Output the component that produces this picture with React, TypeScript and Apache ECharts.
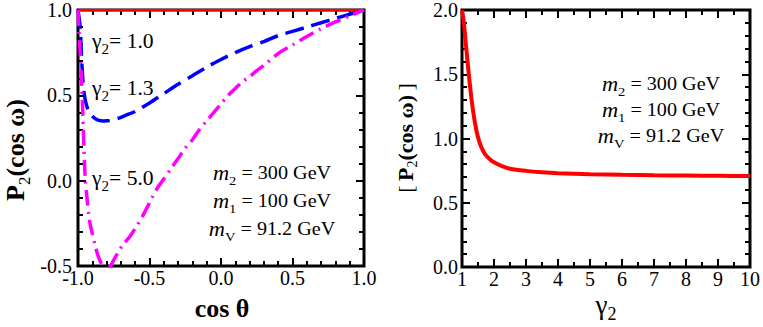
import React, { useEffect, useRef } from 'react';
import * as echarts from 'echarts';

// ---- Left panel: P2(cos ω) vs cos θ ----
const cosThetaG10 = [-1.0, 1.0];
const p2G10 = [1.0, 1.0];

const cosThetaG13 = [-1.0, -0.985, -0.975, -0.965, -0.955, -0.94, -0.92, -0.89, -0.86, -0.82, -0.78, -0.72, -0.66, -0.6, -0.5, -0.4, -0.3, -0.2, -0.1, 0.0, 0.1, 0.2, 0.3, 0.4, 0.5, 0.6, 0.7, 0.8, 0.9, 1.0];
const p2G13 = [1.0, 0.9, 0.72, 0.58, 0.5, 0.44, 0.4, 0.37, 0.355, 0.35, 0.352, 0.365, 0.385, 0.405, 0.455, 0.51, 0.565, 0.615, 0.665, 0.71, 0.75, 0.785, 0.815, 0.85, 0.875, 0.9, 0.925, 0.95, 0.975, 1.0];

const cosThetaG50 = [-1.0, -0.99, -0.98, -0.97, -0.96, -0.95, -0.94, -0.92, -0.9, -0.88, -0.86, -0.84, -0.82, -0.8, -0.78, -0.76, -0.72, -0.68, -0.64, -0.6, -0.55, -0.5, -0.45, -0.4, -0.35, -0.3, -0.25, -0.2, -0.15, -0.1, -0.05, 0.0, 0.05, 0.1, 0.15, 0.2, 0.25, 0.3, 0.4, 0.5, 0.6, 0.7, 0.8, 0.9, 1.0];
const p2G50 = [1.0, 0.82, 0.67, 0.48, 0.23, 0.02, -0.08, -0.23, -0.31, -0.38, -0.44, -0.48, -0.52, -0.53, -0.51, -0.48, -0.42, -0.37, -0.33, -0.28, -0.21, -0.13, -0.05, 0.01, 0.07, 0.13, 0.19, 0.24, 0.3, 0.35, 0.4, 0.45, 0.5, 0.54, 0.58, 0.61, 0.645, 0.675, 0.745, 0.795, 0.845, 0.89, 0.93, 0.965, 1.0];

// ---- Right panel: [P2(cos ω)] vs γ2 ----
const gamma2 = [1.0, 1.05, 1.1, 1.15, 1.2, 1.3, 1.4, 1.5, 1.6, 1.7, 1.8, 1.9, 2.0, 2.25, 2.5, 3.0, 3.5, 4, 5, 6, 7, 8, 9, 10];
const p2Avg = [2.0, 1.92, 1.79, 1.66, 1.53, 1.3, 1.13, 1.01, 0.935, 0.885, 0.855, 0.832, 0.815, 0.785, 0.765, 0.748, 0.737, 0.73, 0.722, 0.717, 0.714, 0.712, 0.71, 0.708];

// ---- Tick labels ----
const leftXTickLabels = ['-1.0', '-0.5', '0.0', '0.5', '1.0'];
const leftYTickLabels = ['-0.5', '0.0', '0.5', '1.0'];
const rightXTickLabels = ['1', '2', '3', '4', '5', '6', '7', '8', '9', '10'];
const rightYTickLabels = ['0.0', '0.5', '1.0', '1.5', '2.0'];

const gammaLabels = ['1.0', '1.3', '5.0'];
const massLabels = [
  { sub: '2', value: '300 GeV' },
  { sub: '1', value: '100 GeV' },
  { sub: 'V', value: '91.2 GeV' },
];

const serif = "'Liberation Serif', 'Times New Roman', serif";

const zip = (xs: number[], ys: number[]) => xs.map((x, i) => [x, ys[i]]);

function makeAxis(
  gridIndex: number,
  position: string,
  min: number,
  max: number,
  interval: number,
  minorSplit: number,
  labels: string[] | null,
  margin: number
) {
  return {
    type: 'value',
    gridIndex,
    position,
    min,
    max,
    interval,
    axisLine: { show: false, onZero: false },
    splitLine: { show: false },
    minorSplitLine: { show: false },
    axisTick: { show: true, inside: true, length: 8, lineStyle: { color: '#000', width: 2 } },
    minorTick: { show: true, splitNumber: minorSplit, length: 5, lineStyle: { color: '#000', width: 2 } },
    axisLabel: labels
      ? {
          show: true,
          margin,
          color: '#000',
          fontSize: 20,
          fontFamily: serif,
          formatter: (v: number) => labels[Math.round((v - min) / interval)] ?? '',
        }
      : { show: false },
  };
}

const subRich = (size: number, pad: number, weight = 'normal') => ({
  fontSize: size,
  fontFamily: serif,
  fontWeight: weight,
  padding: [pad, 0, 0, 0],
  fill: '#000',
});

function gammaText(x: number, y: number, val: string) {
  return {
    type: 'text',
    x,
    y,
    scaleX: 1.08,
    style: {
      text: `{g|γ}{s|2}{n|= ${val}}`,
      align: 'left',
      verticalAlign: 'middle',
      fill: '#000',
      rich: {
        g: { fontSize: 20, fontFamily: serif },
        s: subRich(14, 16),
        n: { fontSize: 20, fontFamily: serif },
      },
    },
  };
}

function massText(x: number, y: number, sub: string, value: string) {
  return {
    type: 'text',
    x,
    y,
    scaleX: 1.12,
    style: {
      text: `{m|m}{s|${sub}}{n| = ${value}}`,
      align: 'center',
      verticalAlign: 'middle',
      fill: '#000',
      rich: {
        m: { fontSize: 20, fontFamily: serif, fontStyle: 'italic' },
        s: subRich(13, 15),
        n: { fontSize: 18, fontFamily: serif },
      },
    },
  };
}

export default function App() {
  const ref = useRef<HTMLDivElement>(null);

  useEffect(() => {
    if (!ref.current) return;
    const chart = echarts.init(ref.current, null, { renderer: 'svg' });

    const option: any = {
      animation: false,
      backgroundColor: '#fff',
      grid: [
        { left: 78, top: 10, width: 286, height: 256, show: true, borderColor: '#000', borderWidth: 3, backgroundColor: 'transparent' },
        { left: 462, top: 8, width: 289, height: 259, show: true, borderColor: '#000', borderWidth: 3, backgroundColor: 'transparent' },
      ],
      xAxis: [
        makeAxis(0, 'bottom', -1, 1, 0.5, 5, leftXTickLabels, 2),
        makeAxis(0, 'top', -1, 1, 0.5, 5, null, 0),
        makeAxis(1, 'bottom', 1, 10, 1, 2, rightXTickLabels, 2),
        makeAxis(1, 'top', 1, 10, 1, 2, null, 0),
      ],
      yAxis: [
        makeAxis(0, 'left', -0.5, 1, 0.5, 5, leftYTickLabels, 6),
        makeAxis(0, 'right', -0.5, 1, 0.5, 5, null, 0),
        makeAxis(1, 'left', 0, 2, 0.5, 5, rightYTickLabels, 4),
        makeAxis(1, 'right', 0, 2, 0.5, 5, null, 0),
      ],
      series: [
        {
          type: 'line',
          xAxisIndex: 0,
          yAxisIndex: 0,
          data: zip(cosThetaG10, p2G10),
          showSymbol: false,
          lineStyle: { color: '#ff0000', width: 2.5 },
        },
        {
          type: 'line',
          xAxisIndex: 0,
          yAxisIndex: 0,
          data: zip(cosThetaG13, p2G13),
          showSymbol: false,
          smooth: 0.3,
          lineStyle: { color: '#0000ff', width: 3.5, type: [19, 8] },
        },
        {
          type: 'line',
          xAxisIndex: 0,
          yAxisIndex: 0,
          data: zip(cosThetaG50, p2G50),
          showSymbol: false,
          smooth: 0.3,
          lineStyle: { color: '#ff00ff', width: 3.5, type: [16, 6, 2, 6] },
        },
        {
          type: 'line',
          xAxisIndex: 2,
          yAxisIndex: 2,
          data: zip(gamma2, p2Avg),
          showSymbol: false,
          smooth: 0.3,
          lineStyle: { color: '#ff0000', width: 4 },
        },
      ],
      graphic: [
        gammaText(92, 41, gammaLabels[0]),
        gammaText(92, 88, gammaLabels[1]),
        gammaText(92, 178, gammaLabels[2]),
        massText(272, 173, massLabels[0].sub, massLabels[0].value),
        massText(272, 201, massLabels[1].sub, massLabels[1].value),
        massText(272, 229, massLabels[2].sub, massLabels[2].value),
        massText(661, 84, massLabels[0].sub, massLabels[0].value),
        massText(661, 110, massLabels[1].sub, massLabels[1].value),
        massText(661, 136, massLabels[2].sub, massLabels[2].value),
        {
          type: 'text',
          x: 222,
          y: 308,
          style: {
            text: 'cos θ',
            align: 'center',
            verticalAlign: 'middle',
            fontSize: 26,
            fontWeight: 'bold',
            fontFamily: serif,
            fill: '#000',
          },
        },
        {
          type: 'text',
          x: 15,
          y: 150,
          rotation: Math.PI / 2,
          style: {
            text: '{b|P}{s|2}{b|(cos ω)}',
            align: 'center',
            verticalAlign: 'middle',
            fill: '#000',
            rich: {
              b: { fontSize: 26, fontWeight: 'bold', fontFamily: serif },
              s: subRich(17, 18),
            },
          },
        },
        {
          type: 'text',
          x: 405,
          y: 138,
          rotation: Math.PI / 2,
          style: {
            text: '{r|[\u2009}{b|P}{s|2}{b|(cos ω)}{r|\u2009]}',
            align: 'center',
            verticalAlign: 'middle',
            fill: '#000',
            rich: {
              r: { fontSize: 22, fontFamily: serif },
              b: { fontSize: 22, fontWeight: 'bold', fontFamily: serif },
              s: subRich(14, 15),
            },
          },
        },
        {
          type: 'text',
          x: 606,
          y: 305,
          style: {
            text: '{g|γ}{s|2}',
            align: 'center',
            verticalAlign: 'middle',
            fill: '#000',
            rich: {
              g: { fontSize: 27, fontFamily: serif },
              s: subRich(18, 18),
            },
          },
        },
      ],
    };

    chart.setOption(option);
    return () => chart.dispose();
  }, []);

  return (
    <div
      ref={ref}
      style={{ position: 'absolute', left: 0, top: 0, width: 763, height: 327, background: '#fff' }}
    />
  );
}
